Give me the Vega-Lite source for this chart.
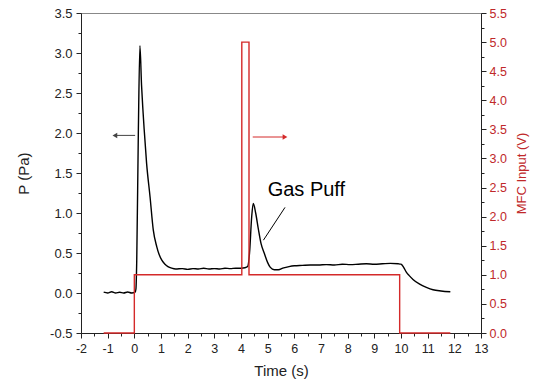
{
  "$schema": "https://vega.github.io/schema/vega-lite/v6.json",
  "width": 400,
  "height": 320,
  "autosize": "none",
  "padding": {"left": 81, "top": 13, "right": 52, "bottom": 50},
  "background": "white",
  "config": {
    "view": {"stroke": "#888", "strokeWidth": 1},
    "font": "Liberation Sans",
    "axis": {"grid": false, "domainColor": "#222", "tickColor": "#222", "labelColor": "#222", "titleColor": "#222", "labelFont": "Liberation Sans", "titleFont": "Liberation Sans", "titleFontWeight": "normal", "domainWidth": 1, "tickWidth": 1}
  },
  "datasets": {
    "pressure": [
      {"t": -1.15, "p": 0.01}, {"t": -1.0, "p": 0.0}, {"t": -0.85, "p": 0.015}, {"t": -0.7, "p": 0.0}, {"t": -0.55, "p": 0.01},
      {"t": -0.4, "p": 0.0}, {"t": -0.25, "p": 0.012}, {"t": -0.1, "p": 0.0}, {"t": 0.03, "p": 0.01}, {"t": 0.06, "p": 0.05},
      {"t": 0.09, "p": 0.4}, {"t": 0.15, "p": 2.0}, {"t": 0.21, "p": 3.09}, {"t": 0.27, "p": 2.6}, {"t": 0.32, "p": 2.3},
      {"t": 0.37, "p": 2.04}, {"t": 0.46, "p": 1.62}, {"t": 0.59, "p": 1.2}, {"t": 0.71, "p": 0.79}, {"t": 0.84, "p": 0.58},
      {"t": 0.93, "p": 0.48}, {"t": 1.03, "p": 0.41}, {"t": 1.15, "p": 0.36}, {"t": 1.26, "p": 0.33}, {"t": 1.4, "p": 0.31},
      {"t": 1.55, "p": 0.3}, {"t": 1.8, "p": 0.305}, {"t": 2.0, "p": 0.295}, {"t": 2.2, "p": 0.305},
      {"t": 2.4, "p": 0.3}, {"t": 2.6, "p": 0.31}, {"t": 2.8, "p": 0.3}, {"t": 3.0, "p": 0.305}, {"t": 3.2, "p": 0.3},
      {"t": 3.4, "p": 0.31}, {"t": 3.6, "p": 0.305}, {"t": 3.8, "p": 0.31}, {"t": 4.0, "p": 0.31}, {"t": 4.15, "p": 0.315},
      {"t": 4.25, "p": 0.33}, {"t": 4.32, "p": 0.5}, {"t": 4.4, "p": 0.95}, {"t": 4.46, "p": 1.12}, {"t": 4.55, "p": 1.0},
      {"t": 4.65, "p": 0.8}, {"t": 4.75, "p": 0.62}, {"t": 4.87, "p": 0.5}, {"t": 5.0, "p": 0.38}, {"t": 5.1, "p": 0.32},
      {"t": 5.25, "p": 0.29}, {"t": 5.4, "p": 0.29}, {"t": 5.6, "p": 0.315}, {"t": 5.8, "p": 0.33}, {"t": 6.0, "p": 0.34},
      {"t": 6.3, "p": 0.345}, {"t": 6.6, "p": 0.35}, {"t": 6.9, "p": 0.35}, {"t": 7.2, "p": 0.355}, {"t": 7.5, "p": 0.35},
      {"t": 7.8, "p": 0.36}, {"t": 8.1, "p": 0.355}, {"t": 8.4, "p": 0.36}, {"t": 8.7, "p": 0.365}, {"t": 9.0, "p": 0.36},
      {"t": 9.3, "p": 0.365}, {"t": 9.6, "p": 0.37}, {"t": 9.9, "p": 0.365}, {"t": 10.0, "p": 0.36}, {"t": 10.1, "p": 0.32},
      {"t": 10.2, "p": 0.26}, {"t": 10.3, "p": 0.22}, {"t": 10.45, "p": 0.17}, {"t": 10.7, "p": 0.11}, {"t": 10.95, "p": 0.07},
      {"t": 11.2, "p": 0.04}, {"t": 11.5, "p": 0.025}, {"t": 11.85, "p": 0.015}
    ],
    "mfc": [
      {"i": 1, "t": -1.15, "v": 0}, {"i": 2, "t": 0.0, "v": 0}, {"i": 3, "t": 0.0, "v": 1}, {"i": 4, "t": 4.03, "v": 1},
      {"i": 5, "t": 4.03, "v": 5}, {"i": 6, "t": 4.3, "v": 5}, {"i": 7, "t": 4.3, "v": 1}, {"i": 8, "t": 9.95, "v": 1},
      {"i": 9, "t": 9.95, "v": 0}, {"i": 10, "t": 11.85, "v": 0}
    ],
    "arrows": [
      {"t": 0.03, "t2": -0.73, "p": 1.97, "c": "black", "shape": "triangle-left"},
      {"t": 4.44, "t2": 5.65, "p": 1.95, "c": "red", "shape": "triangle-right"}
    ],
    "label": [{"t": 5.0, "p": 1.29, "text": "Gas Puff"}],
    "leader": [{"t": 5.65, "p": 1.07, "t2": 4.84, "p2": 0.66}]
  },
  "encoding": {
    "x": {
      "field": "t", "type": "quantitative",
      "scale": {"domain": [-2, 13], "nice": false, "zero": false},
      "axis": {
        "title": "Time (s)", "titleFontSize": 15, "titlePadding": 9,
        "values": [-2,-1.5,-1,-0.5,0,0.5,1,1.5,2,2.5,3,3.5,4,4.5,5,5.5,6,6.5,7,7.5,8,8.5,9,9.5,10,10.5,11,11.5,12,12.5,13],
        "labelExpr": "datum.value % 1 !== 0 ? '' : '' + datum.value",
        "tickSize": {"condition": {"test": "datum.value % 1 !== 0", "value": 3}, "value": 5},
        "labelFontSize": 12.5, "labelPadding": 4, "labelFlush": false
      }
    }
  },
  "layer": [
    {
      "encoding": {
        "y": {
          "field": "p", "type": "quantitative",
          "scale": {"domain": [-0.5, 3.5], "nice": false, "zero": false},
          "axis": {
            "title": "P (Pa)", "titleFontSize": 15, "titlePadding": 18,
            "values": [-0.5,-0.25,0,0.25,0.5,0.75,1,1.25,1.5,1.75,2,2.25,2.5,2.75,3,3.25,3.5],
            "labelExpr": "abs(datum.value*2 - round(datum.value*2)) > 0.01 ? '' : replace(format(datum.value, '.1f'), '\u2212', '-')",
            "tickSize": {"condition": {"test": "abs(datum.value*2 - round(datum.value*2)) > 0.01", "value": 3}, "value": 5},
            "labelFontSize": 13, "labelPadding": 4, "labelFlush": false
          }
        }
      },
      "layer": [
        {"data": {"name": "pressure"}, "mark": {"type": "line", "color": "black", "strokeWidth": 1.4, "interpolate": "monotone"}},
        {"data": {"name": "arrows"}, "mark": {"type": "rule", "strokeWidth": 1},
         "encoding": {"x2": {"field": "t2"}, "color": {"field": "c", "type": "nominal", "scale": {"domain": ["black", "red"], "range": ["#444444", "#d42a2a"]}, "legend": null}}},
        {"data": {"name": "arrows"}, "mark": {"type": "point", "filled": true, "size": 30, "opacity": 1},
         "encoding": {"x": {"field": "t2", "type": "quantitative"},
                      "shape": {"field": "shape", "type": "nominal", "scale": {"domain": ["triangle-left", "triangle-right"], "range": ["triangle-left", "triangle-right"]}, "legend": null},
                      "color": {"field": "c", "type": "nominal", "scale": {"domain": ["black", "red"], "range": ["#222222", "#d42a2a"]}, "legend": null}}},
        {"data": {"name": "leader"}, "mark": {"type": "rule", "color": "black", "strokeWidth": 1},
         "encoding": {"x2": {"field": "t2"}, "y2": {"field": "p2"}}},
        {"data": {"name": "label"}, "mark": {"type": "text", "align": "left", "baseline": "middle", "fontSize": 20, "font": "Liberation Sans", "color": "black"},
         "encoding": {"text": {"field": "text"}}}
      ]
    },
    {
      "data": {"name": "mfc"},
      "mark": {"type": "line", "color": "#d42a2a", "strokeWidth": 1.4},
      "encoding": {
        "order": {"field": "i", "type": "quantitative"},
        "y": {
          "field": "v", "type": "quantitative",
          "scale": {"domain": [0, 5.5], "nice": false, "zero": false},
          "axis": {
            "orient": "right", "title": "MFC Input (V)", "titleFontSize": 13, "titlePadding": 9,
            "titleAngle": 270, "titleBaseline": "top",
            "titleColor": "#c0282a", "labelColor": "#c0282a",
            "values": [0,0.25,0.5,0.75,1,1.25,1.5,1.75,2,2.25,2.5,2.75,3,3.25,3.5,3.75,4,4.25,4.5,4.75,5,5.25,5.5],
            "labelExpr": "abs(datum.value*2 - round(datum.value*2)) > 0.01 ? '' : format(datum.value, '.1f')",
            "tickSize": {"condition": {"test": "abs(datum.value*2 - round(datum.value*2)) > 0.01", "value": 3}, "value": 5},
            "labelFontSize": 12.5, "labelPadding": 3, "labelFlush": false
          }
        }
      }
    }
  ],
  "resolve": {"scale": {"y": "independent"}}
}
